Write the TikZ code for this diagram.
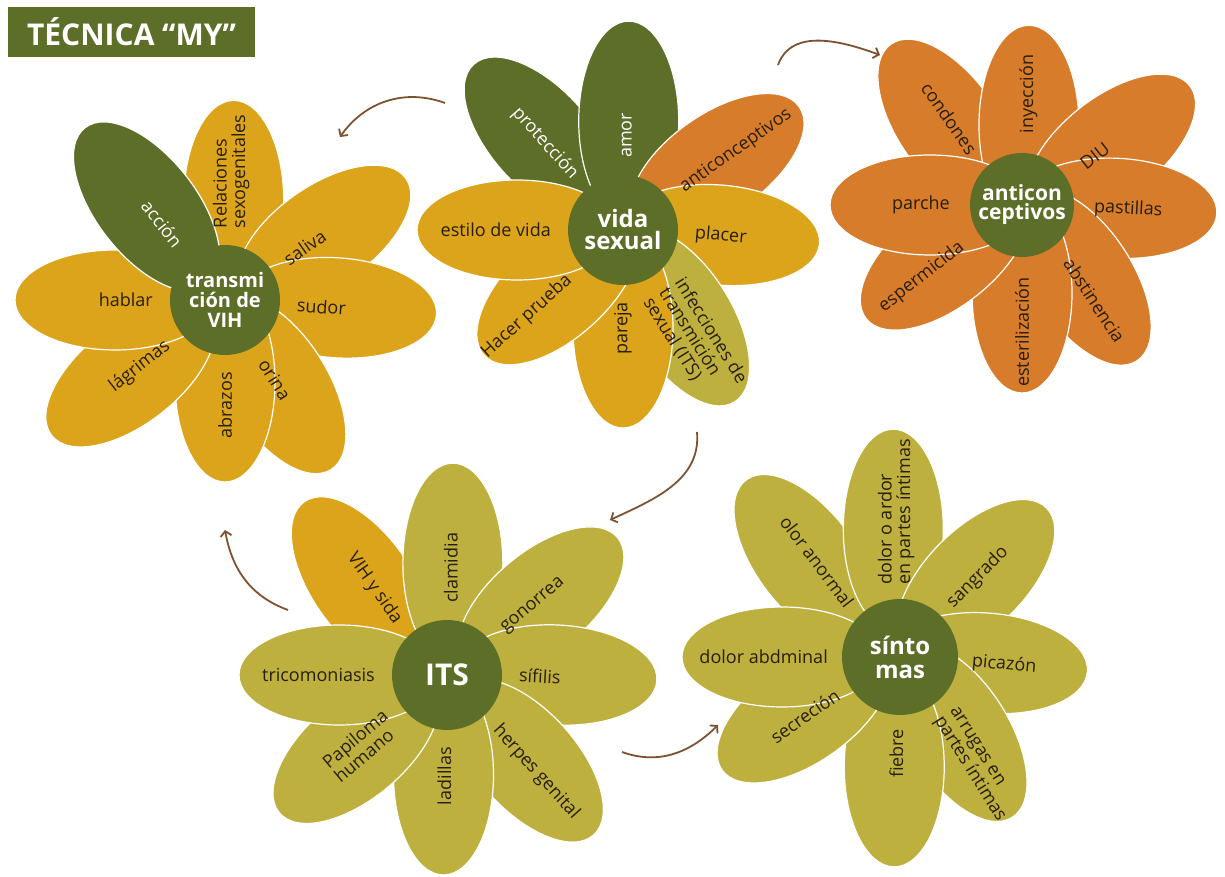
\documentclass[tikz,border=0pt]{standalone}
\usepackage{fontspec}
\setmainfont{Open Sans}
\usepackage{xcolor}
\usepackage{tikz}
\usetikzlibrary{calc, shapes.geometric, arrows.meta}
\pgfdeclarelayer{fondo}
\pgfsetlayers{fondo,main}

\definecolor{verde}{RGB}{93,110,40}
\definecolor{mostaza}{RGB}{219,164,27}
\definecolor{naranja}{RGB}{214,124,42}
\definecolor{oliva}{RGB}{190,176,62}
\definecolor{cafe}{RGB}{125,82,50}
\definecolor{tinta}{RGB}{40,30,14}

\begin{document}
\begin{tikzpicture}[x=1pt, y=1pt, >={Straight Barb[length=5pt, width=11pt]},
    petalo/.style={ellipse, draw=white, line width=1.2pt, inner sep=0pt,
        minimum width=200pt, minimum height=100pt},
    texto/.style={align=left, inner sep=0pt, font=\fontsize{18}{18.5}\selectfont},
    centro/.style={circle, fill=verde, text=white, align=center, inner sep=0pt,
        minimum size=110pt, font=\bfseries\fontsize{20}{20}\selectfont},
    flecha/.style={->, draw=cafe, line width=1.8pt}]
    \useasboundingbox (0,0) rectangle (1225,877);

    % 1. Tiêu đề
    \node[fill=verde, text=white, minimum width=247pt, minimum height=50pt,
        font=\bfseries\fontsize{30}{30}\selectfont] (titulo) at (131.5,845) {TÉCNICA “MY”};

    % 2. Tâm các bông hoa
    \node[centro] (vih) at (225,577) {transmi\\ción de\\VIH};
    \node[centro, font=\bfseries\fontsize{24}{22}\selectfont] (vida) at (623,647) {vida\\sexual};
    \node[centro, minimum size=104pt, font=\bfseries\fontsize{21}{19}\selectfont] (anti) at (1022,672) {anticon\\ceptivos};
    \node[centro, font=\bfseries\fontsize{30}{30}\selectfont] (its) at (447,202) {ITS};
    \node[centro, minimum size=116pt, font=\bfseries\fontsize{24}{24}\selectfont] (sint) at (900,220) {sínto\\mas};

    % 3. Cánh hoa và chữ
    \foreach \f/\d/\ang/\rot/\col/\tc/\txt [count=\i] in {
        vih/100/85/90/mostaza/tinta/{Relaciones\\sexogenitales},
        vih/118/33/35/mostaza/tinta/saliva,
        vih/112/-4/-4/mostaza/tinta/sudor,
        vih/100/-58/-58/mostaza/tinta/orina,
        vih/82/-90/90/mostaza/tinta/abrazos,
        vih/120/-142/38/mostaza/tinta/lágrimas,
        vih/110/180/0/mostaza/tinta/hablar,
        vih/122/130/-52/verde/white/acción,
        vida/123/132/-48/verde/white/protección,
        vida/109/87/90/verde/white/amor,
        vida/115/35/35/naranja/tinta/anticonceptivos,
        vida/97/-3/-5/mostaza/tinta/placer,
        vida/105/-56/-58/oliva/tinta/{infecciones de\\transmición\\sexual (ITS)},
        vida/98/-90/90/mostaza/tinta/pareja,
        vida/87/-138/42/mostaza/tinta/Hacer prueba,
        vida/106/180/0/mostaza/tinta/estilo de vida,
        anti/108/133/-55/naranja/tinta/condones,
        anti/80/85/90/naranja/tinta/inyección,
        anti/106/33/38/naranja/tinta/DIU,
        anti/95/-2/-3/naranja/tinta/pastillas,
        anti/94/-50/-57/naranja/tinta/abstinencia,
        anti/88/-90/90/naranja/tinta/esterilización,
        anti/93/-146/38/naranja/tinta/espermicida,
        anti/92/180/0/naranja/tinta/parche,
        its/125/133/-55/mostaza/tinta/VIH y sida,
        its/112/87/90/oliva/tinta/clamidia,
        its/119/38/40/oliva/tinta/gonorrea,
        its/110/0/-3/oliva/tinta/sífilis,
        its/117/-47/-48/oliva/tinta/herpes genital,
        its/100/-92/90/oliva/tinta/ladillas,
        its/117/-141/40/oliva/tinta/{Papiloma\\humano},
        its/108/180/0/oliva/tinta/tricomoniasis,
        sint/135/134/-53/oliva/tinta/olor anormal,
        sint/128/93/90/oliva/tinta/{dolor o ardor\\en partes íntimas},
        sint/109/46/45/oliva/tinta/sangrado,
        sint/88/-4/-5/oliva/tinta/picazón,
        sint/96/-52/-58/oliva/tinta/{arrugas en\\partes íntimas},
        sint/110/-93/90/oliva/tinta/fiebre,
        sint/111/-150/35/oliva/tinta/secreción,
        sint/118/180/0/oliva/tinta/dolor abdminal}
    {
        \pgfmathsetmacro\cs{cos(\ang-\rot)}
        \ifdim\cs pt>0pt \def\anc{west}\else\def\anc{east}\fi
        \begin{pgfonlayer}{fondo}
            \node[petalo, fill=\col, rotate=\rot] (p\i) at ($(\f)+(\ang:\d)$) {};
        \end{pgfonlayer}
        \node[texto, text=\tc, rotate=\rot, anchor=\anc] (t\i) at ($(\f)+(\ang:72)$) {\txt};
    }

    % 4. Mũi tên nối
    \coordinate (a1) at (445,774);
    \coordinate (b1) at (340,740);
    \coordinate (a2) at (778,812);
    \coordinate (b2) at (880,822);
    \coordinate (a3) at (697,445);
    \coordinate (b3) at (610,357);
    \coordinate (a4) at (288,267);
    \coordinate (b4) at (225,347);
    \coordinate (a5) at (622,125);
    \coordinate (b5) at (718,152);
    \draw[flecha] (a1) to[out=160, in=55] (b1);
    \draw[flecha] (a2) to[out=70, in=160] (b2);
    \draw[flecha] (a3) to[out=-85, in=25] (b3);
    \draw[flecha] (a4) to[out=160, in=-80] (b4);
    \draw[flecha] (a5) to[out=-20, in=-135] (b5);
\end{tikzpicture}
\end{document}
